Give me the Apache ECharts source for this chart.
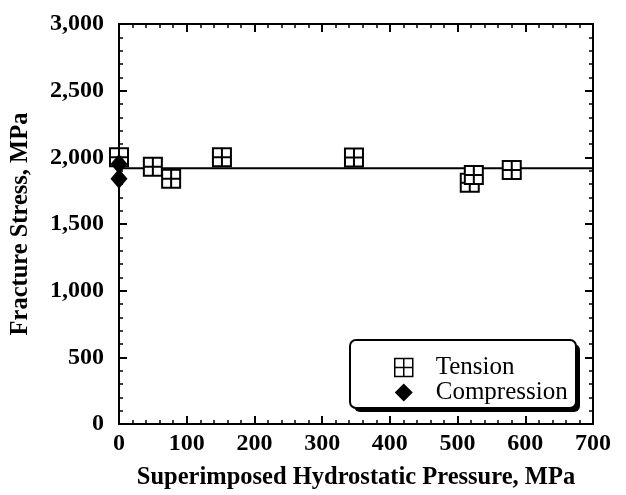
<!DOCTYPE html>
<html>
<head>
<meta charset="utf-8">
<script src="https://cdn.jsdelivr.net/npm/echarts@6/dist/echarts.min.js"></script>
<style>
  html, body { margin: 0; padding: 0; background: #fff; }
  #chart { width: 626px; height: 495px; }
</style>
</head>
<body>
<div id="chart"></div>
<script>
// Fracture stress vs. superimposed hydrostatic pressure
const tensionPressure = [0, 50, 77, 152, 347, 518, 524, 580];
const tensionStress   = [2000, 1930, 1840, 2000, 1998, 1810, 1867, 1905];
const compressionPressure = [0, 0];
const compressionStress   = [1950, 1840];
const fitPressure = [0, 700];
const fitStress   = [1918, 1918];

const xTicks = { min: 0, max: 700, interval: 100 };
const yTicks = { min: 0, max: 3000, interval: 500 };

const pairs = (xs, ys) => xs.map((x, i) => [x, ys[i]]);

const squareCross = 'path://M0,0H10V10H0Z M5,0V10 M0,5H10';

const serif = 'Liberation Serif';
const axisLine = { show: true, onZero: false, lineStyle: { color: '#000', width: 2 } };
const tick = { show: true, inside: true, length: 8, lineStyle: { color: '#000', width: 2 } };
const minor = { show: true, splitNumber: 5, length: 4, lineStyle: { color: '#000', width: 1.5 } };
const tickLabel = { color: '#000', fontFamily: serif, fontWeight: 'bold', fontSize: 24 };
const titleStyle = { color: '#000', fontFamily: serif, fontWeight: 'bold', fontSize: 24.5 };

const chart = echarts.init(document.getElementById('chart'));
chart.setOption({
  animation: false,
  backgroundColor: '#fff',
  grid: { left: 119, right: 33, top: 24, bottom: 67 },
  graphic: [
    // legend frame with a solid drop shadow
    { type: 'rect', z: 5, shape: { x: 354, y: 344, width: 226, height: 68, r: 6 }, style: { fill: '#000' } },
    { type: 'rect', z: 5, shape: { x: 350, y: 340, width: 226, height: 68, r: 6 }, style: { fill: '#fff', stroke: '#000', lineWidth: 2 } }
  ],
  xAxis: [
    {
      type: 'value', position: 'bottom', ...xTicks,
      name: 'Superimposed Hydrostatic Pressure, MPa',
      nameLocation: 'middle', nameGap: 41,
      nameTextStyle: titleStyle,
      axisLine, axisTick: tick, minorTick: minor,
      axisLabel: { ...tickLabel, margin: 8 },
      splitLine: { show: false }
    },
    {
      type: 'value', position: 'top', ...xTicks,
      axisLine, axisTick: tick, minorTick: minor,
      axisLabel: { show: false }, splitLine: { show: false }
    }
  ],
  yAxis: [
    {
      type: 'value', position: 'left', ...yTicks,
      name: 'Fracture Stress, MPa',
      nameLocation: 'middle', nameGap: 86, nameRotate: 90,
      nameTextStyle: titleStyle,
      axisLine, axisTick: tick, minorTick: minor,
      axisLabel: { ...tickLabel, margin: 15,
        formatter: v => v.toLocaleString('en-US') },
      splitLine: { show: false }
    },
    {
      type: 'value', position: 'right', ...yTicks,
      axisLine, axisTick: tick, minorTick: minor,
      axisLabel: { show: false }, splitLine: { show: false }
    }
  ],
  legend: {
    orient: 'vertical',
    left: 350, top: 340,
    padding: [15, 14, 9, 44],
    itemGap: 0,
    itemWidth: 18, itemHeight: 18,
    z: 6,
    textStyle: { color: '#000', fontFamily: serif, fontSize: 25, lineHeight: 22, padding: [0, 0, 0, 18] },
    data: [
      { name: 'Tension', icon: squareCross, itemStyle: { color: '#fff', borderColor: '#000', borderWidth: 1.5 } },
      { name: 'Compression', icon: 'diamond', itemStyle: { color: '#000', borderWidth: 0 } }
    ]
  },
  series: [
    {
      name: 'Fit', type: 'line', data: pairs(fitPressure, fitStress),
      symbol: 'none', lineStyle: { color: '#000', width: 2 }, z: 1, silent: true
    },
    {
      name: 'Tension', type: 'scatter', data: pairs(tensionPressure, tensionStress),
      symbol: squareCross, symbolSize: 18,
      itemStyle: { color: '#fff', borderColor: '#000', borderWidth: 2, opacity: 1 },
      z: 3
    },
    {
      name: 'Compression', type: 'scatter', data: pairs(compressionPressure, compressionStress),
      symbol: 'diamond', symbolSize: [17, 20],
      itemStyle: { color: '#000', opacity: 1 },
      z: 4
    }
  ]
});
</script>
</body>
</html>
